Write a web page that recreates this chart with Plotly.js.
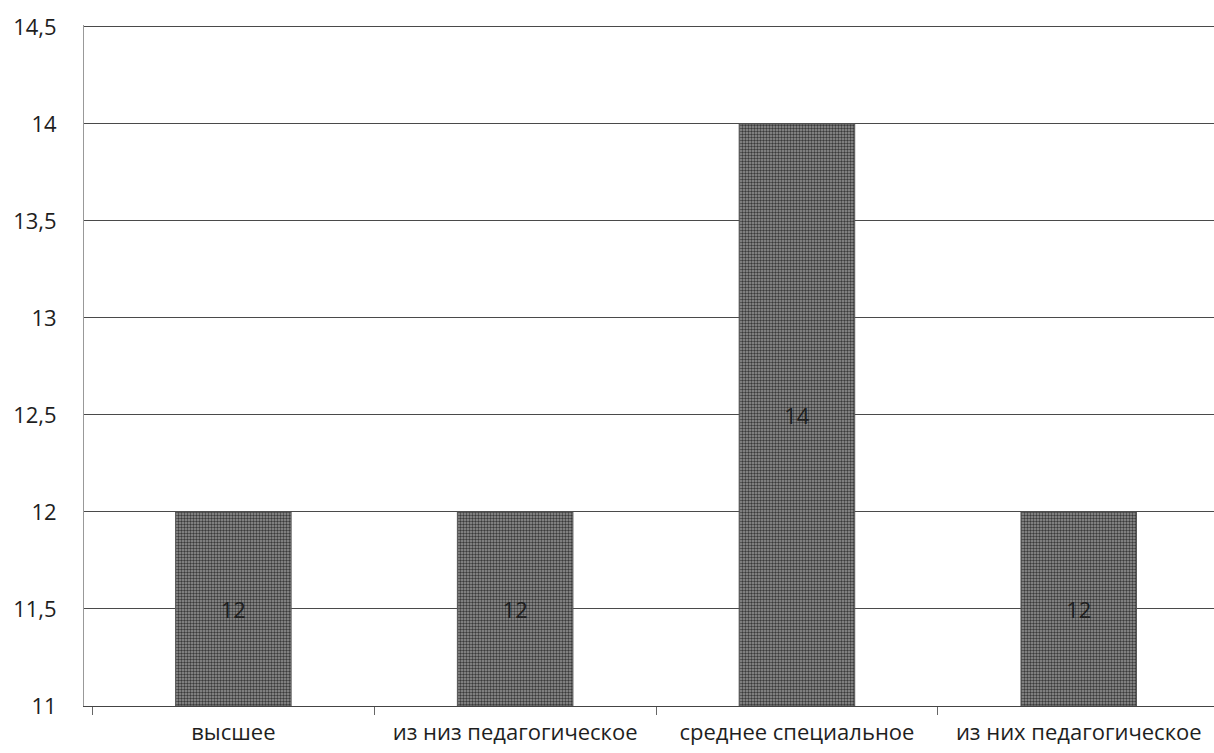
<!DOCTYPE html>
<html>
<head>
<meta charset="utf-8">
<script src="https://cdn.plot.ly/plotly-3.0.1.min.js"></script>
<style>html,body{margin:0;padding:0;background:#fff;}#chart{width:1214px;height:753px;}</style>
</head>
<body>
<div id="chart"></div>
<script>
const categories = ["высшее", "из низ педагогическое", "среднее специальное", "из них педагогическое"];
const values = [12, 12, 14, 12];
const valueLabels = ["12", "12", "14", "12"];
const yTicks = [11, 11.5, 12, 12.5, 13, 13.5, 14, 14.5];
const yBase = 11;

const trace = {
  type: "bar",
  x: categories,
  y: values.map(v => v - yBase),
  base: yBase,
  text: valueLabels,
  textposition: "inside",
  insidetextanchor: "middle",
  textfont: {family: "Open Sans, Liberation Sans, sans-serif", size: 22, color: "#1e1e1e"},
  marker: {
    color: "#808080",
    line: {color: "#555555", width: 1},
    pattern: {shape: ".", fgcolor: "#3a3a3a", bgcolor: "#969696", size: 3, solidity: 0.5}
  },
  width: 0.41,
  hoverinfo: "skip"
};

const layout = {
  width: 1214, height: 753,
  margin: {l: 84, r: 0, t: 25, b: 47},
  paper_bgcolor: "#ffffff",
  plot_bgcolor: "#ffffff",
  separators: ", ",
  showlegend: false,
  font: {family: "Open Sans, Liberation Sans, sans-serif", color: "#1e1e1e"},
  xaxis: {
    type: "category",
    range: [-0.53, 3.48],
    showgrid: false,
    showline: true,
    linecolor: "#444",
    linewidth: 1.2,
    ticks: "outside",
    tickson: "boundaries",
    ticklen: 8,
    tickcolor: "#666",
    ticklabelstandoff: 6,
    tickfont: {size: 22, color: "#1e1e1e"},
    zeroline: false
  },
  yaxis: {
    range: [11, 14.51],
    tickvals: yTicks,
    ticktext: yTicks.map(v => String(v).replace(".", ",")),
    showgrid: true,
    gridcolor: "#4a4a4a",
    gridwidth: 1,
    showline: true,
    linecolor: "#999999",
    linewidth: 1,
    ticks: "",
    ticklabelstandoff: 22,
    tickfont: {size: 22, color: "#1e1e1e"},
    zeroline: false
  }
};
Plotly.newPlot("chart", [trace], layout, {staticPlot: true, displayModeBar: false});
</script>
</body>
</html>
